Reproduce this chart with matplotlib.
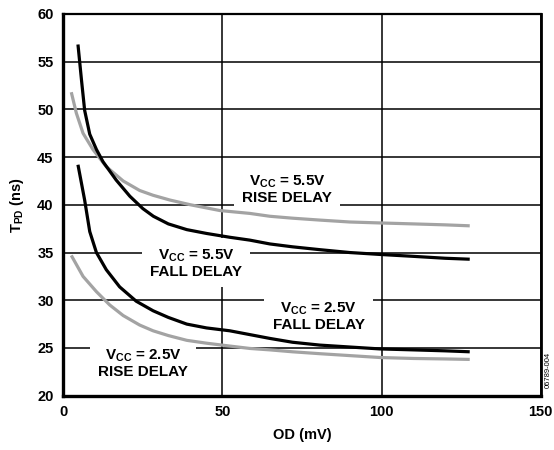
import matplotlib
matplotlib.use("Agg")
import matplotlib.pyplot as plt

plt.rcParams['font.family'] = ['Liberation Sans', 'DejaVu Sans']
plt.rcParams['mathtext.fontset'] = 'custom'
plt.rcParams['mathtext.rm'] = 'Liberation Sans:bold'
plt.rcParams['mathtext.it'] = 'Liberation Sans:bold'
plt.rcParams['mathtext.bf'] = 'Liberation Sans:bold'

# Data (OD in mV, TPD in ns)
od_fall55 = [4.6, 5.7, 6.7, 8.3, 10.4, 12.5, 16.6, 20.9, 25.0, 28.3, 33, 38.8, 45,
             52.3, 58.6, 64.9, 72, 80.6, 90, 99.5, 110, 120, 127.7]
tpd_fall55 = [56.8, 53.1, 49.9, 47.4, 45.8, 44.5, 42.6, 40.9, 39.6, 38.8, 38.0, 37.4, 37.0,
              36.6, 36.3, 35.9, 35.6, 35.3, 35.0, 34.8, 34.6, 34.4, 34.3]

od_rise55 = [2.5, 4.1, 6.2, 9.3, 13.5, 18.8, 24.0, 28.2, 33.5, 40, 49.2, 58.6, 64.9,
             72, 80.6, 90, 99.5, 110, 120, 127.7]
tpd_rise55 = [51.8, 49.6, 47.5, 45.8, 44.0, 42.5, 41.5, 41.0, 40.5, 40.0, 39.4, 39.1, 38.8,
              38.6, 38.4, 38.2, 38.1, 38.0, 37.9, 37.8]

od_fall25 = [4.6, 6.7, 8.3, 10.4, 13.5, 17.7, 22.9, 28.2, 33, 38.8, 45, 52.3, 58.6,
             64.9, 72, 80.6, 90, 99.5, 110, 120, 127.7]
tpd_fall25 = [44.2, 40.5, 37.2, 35.0, 33.2, 31.4, 29.9, 28.9, 28.2, 27.5, 27.1, 26.8, 26.4,
              26.0, 25.6, 25.3, 25.1, 24.9, 24.8, 24.7, 24.6]

od_rise25 = [2.5, 6.2, 10.4, 14.6, 18.8, 24.0, 28.2, 33, 38.8, 45, 52.3, 58.6, 64.9,
             72, 80.6, 90, 99.5, 110, 120, 127.7]
tpd_rise25 = [34.7, 32.5, 30.9, 29.5, 28.4, 27.4, 26.8, 26.3, 25.8, 25.5, 25.2, 24.95, 24.8,
              24.6, 24.4, 24.2, 24.0, 23.9, 23.85, 23.8]

x_ticks = [0, 50, 100, 150]
y_ticks = [20, 25, 30, 35, 40, 45, 50, 55, 60]

fig = plt.figure(figsize=(5.54, 4.5), dpi=100)
ax = fig.add_axes([0.1143, 0.1207, 0.8617, 0.8483])

ax.set_xlim(0, 150)
ax.set_ylim(20, 60)
ax.set_xticks(x_ticks)
ax.set_yticks(y_ticks)
ax.tick_params(length=0, labelsize=10.5, pad=7)
for lbl in ax.get_xticklabels() + ax.get_yticklabels():
    lbl.set_fontweight('bold')
ax.grid(True, color='black', linewidth=1.1, zorder=0)
ax.set_axisbelow(True)

for side in ['left', 'bottom']:
    ax.spines[side].set_linewidth(2.4)
ax.spines['top'].set_linewidth(1.6)
ax.spines['right'].set_linewidth(2.0)

gray = '#a3a3a3'
ax.plot(od_rise55, tpd_rise55, color=gray, lw=2.3, zorder=3, solid_capstyle='butt')
ax.plot(od_rise25, tpd_rise25, color=gray, lw=2.3, zorder=3, solid_capstyle='butt')
ax.plot(od_fall55, tpd_fall55, color='black', lw=2.3, zorder=4, solid_capstyle='butt')
ax.plot(od_fall25, tpd_fall25, color='black', lw=2.3, zorder=4, solid_capstyle='butt')

bbox = dict(facecolor='white', edgecolor='none', pad=6)
tkw = dict(ha='center', va='center', fontsize=11, fontweight='bold',
           linespacing=1.05, bbox=bbox, zorder=2)
ax.text(70.3, 41.6, '$\\mathrm{V_{CC}}$ = 5.5V\nRISE DELAY', **tkw)
ax.text(41.7, 33.9, '$\\mathrm{V_{CC}}$ = 5.5V\nFALL DELAY', **tkw)
ax.text(80.2, 28.3, '$\\mathrm{V_{CC}}$ = 2.5V\nFALL DELAY', **tkw)
ax.text(25.0, 23.4, '$\\mathrm{V_{CC}}$ = 2.5V\nRISE DELAY', **tkw)

ax.set_xlabel('OD (mV)', fontsize=10.5, fontweight='bold', labelpad=6)
ax.set_ylabel('$\\mathrm{T_{PD}}$ (ns)', fontsize=10.5, fontweight='bold', labelpad=8)

fig.text(0.989, 0.178, '06789-004', rotation=90, fontsize=5.5,
         ha='center', va='center')

fig.savefig('out.png', dpi=100)
